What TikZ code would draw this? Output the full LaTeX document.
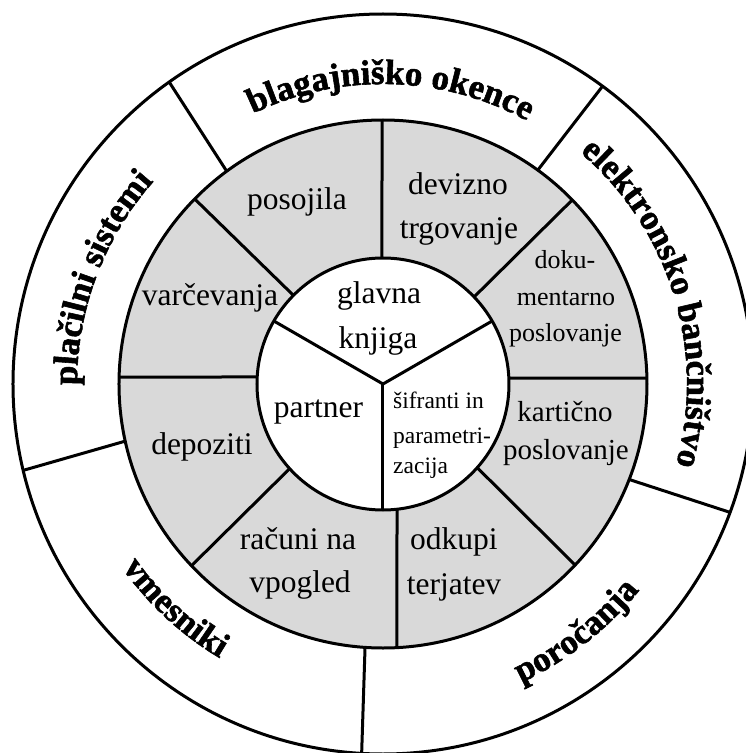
\documentclass[tikz,border=0pt]{standalone}
\usepackage{fontspec}
\setmainfont{Liberation Serif}
\newfontfamily\heavyfont[FakeBold=1.6]{Liberation Serif Bold}
\usetikzlibrary{decorations.text}
\definecolor{ringgrey}{RGB}{217,217,217}
\newcommand{\outerfont}{\fontsize{35}{40}\heavyfont}
\begin{document}
\begin{tikzpicture}[x=1pt,y=1pt,
  ln/.style={line width=3pt},
  lbl/.style={font=\fontsize{31.5}{36}\selectfont, anchor=base, inner sep=0pt},
  lblm/.style={font=\fontsize{29}{34}\selectfont, anchor=base, inner sep=0pt},
  lbls/.style={font=\fontsize{26}{30}\selectfont, anchor=base, inner sep=0pt},
  lblx/.style={font=\fontsize{23.5}{28}\selectfont, anchor=base west, inner sep=0pt},
  curved/.style={decorate, decoration={text along path, text align=center, text={|\outerfont|#1}}}
]
\useasboundingbox (-383,-369) rectangle (363,384);
\clip (-383,-369) rectangle (363,384);
\fill[white] (-383,-369) rectangle (363,384);

% rings
\coordinate (c) at (0,0);
\draw[ln, fill=white] (c) circle[radius=370pt];
\draw[ln, fill=ringgrey] (c) circle[radius=264pt];
\draw[ln, fill=white] (c) circle[radius=126pt];

% inner Y
\draw[ln] (c) -- (30:126pt);
\draw[ln] (c) -- (150:126pt);
\draw[ln] (c) -- (270:126pt);

% grey ring dividers
\draw[ln] (90.5:126pt) -- (90.2:264pt);
\draw[ln] (43.7:126pt) -- (44.2:264pt);
\draw[ln] (2.7:126pt) -- (1.3:264pt);
\draw[ln] (-41.6:126pt) -- (-43.3:264pt);
\draw[ln] (-83.6:126pt) -- (-87:264pt);
\draw[ln] (222.2:126pt) -- (223.5:264pt);
\draw[ln] (176.8:126pt) -- (178.5:264pt);
\draw[ln] (135.3:126pt) -- (135.5:264pt);

% outer ring dividers
\draw[ln] (126.3:264pt) -- (125.3:370pt);
\draw[ln] (54.1:264pt) -- (53.6:370pt);
\draw[ln] (-21.2:264pt) -- (-20.3:370pt);
\draw[ln] (-93.9:264pt) -- (-93.3:372pt);
\draw[ln] (192.5:264pt) -- (193.5:370pt);

% outer curved labels
\path[curved={blagajniško okence}] (130:300pt) arc[start angle=130, end angle=47, radius=300pt];
\path[curved={elektronsko bančništvo}] (60:304pt) arc[start angle=60, end angle=-25.8, radius=304pt];
\path[curved={plačilni sistemi}] (200:306pt) arc[start angle=200, end angle=118.8, radius=306pt];
\path[curved={poročanja}] (-85:329pt) arc[start angle=-85, end angle=-19, radius=329pt];
\path[curved={vmesniki}] (200:319pt) arc[start angle=200, end angle=254.4, radius=319pt];

% grey ring labels
\node[lbl] (posojila) at (-86,174) {posojila};
\node[lbl] (devizno) at (75,189) {devizno};
\node[lbl] (trgovanje) at (76,146) {trgovanje};
\node[lbls] (doku) at (182,116) {doku-};
\node[lbls] (mentarno) at (183,79) {mentarno};
\node[lbls] (poslovanjeA) at (182.5,43) {poslovanje};
\node[lblm] (karticno) at (182,-37) {kartično};
\node[lblm] (poslovanjeB) at (183,-75) {poslovanje};
\node[lbl] (odkupi) at (71,-165) {odkupi};
\node[lbl] (terjatev) at (71,-210) {terjatev};
\node[lbl] (racuni) at (-85,-165) {računi na};
\node[lbl] (vpogled) at (-83,-208) {vpogled};
\node[lbl] (depoziti) at (-181,-70) {depoziti};
\node[lbl] (varcevanja) at (-173,79) {varčevanja};

% inner labels
\node[lbl] (glavna) at (-4,81) {glavna};
\node[lbl] (knjiga) at (-5,36) {knjiga};
\node[lbl] (partner) at (-64.5,-33) {partner};
\node[lblx] (sifranti) at (10,-24) {šifranti in};
\node[lblx] (parametri) at (10,-59) {parametri-};
\node[lblx] (zacija) at (10,-89) {zacija};
\end{tikzpicture}
\end{document}
